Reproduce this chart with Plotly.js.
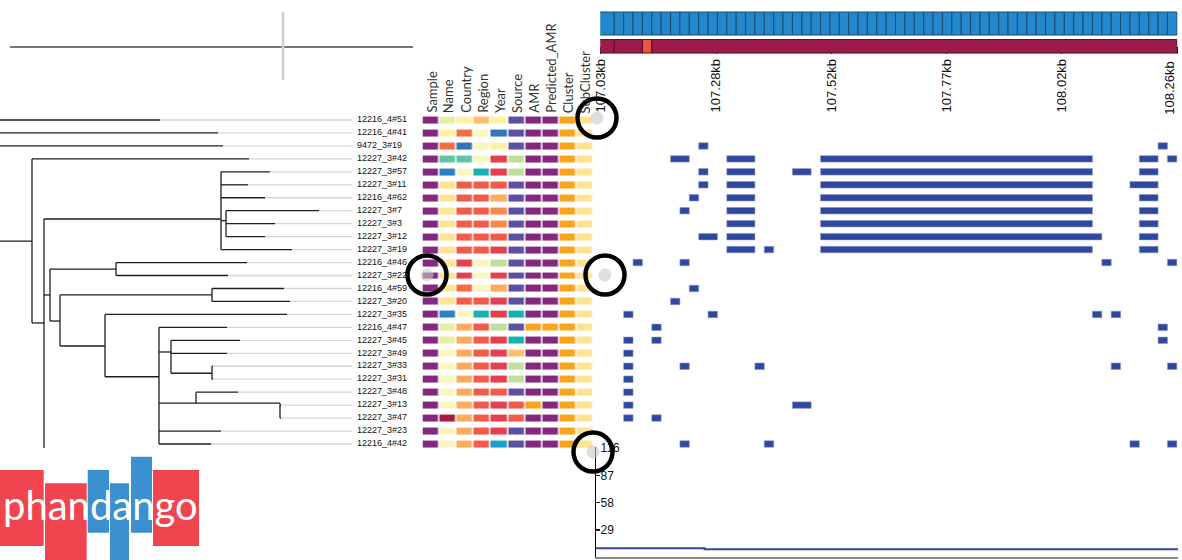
<!DOCTYPE html>
<html><head><meta charset="utf-8">
<script src="https://cdn.plot.ly/plotly-3.0.1.min.js"></script>
<style>html,body{margin:0;padding:0;background:#fff}#plot{width:1182px;height:560px}</style>
</head><body><div id="plot"></div>
<script>
// ---------------- DATA ----------------
const tipLabels = ['12216_4#51','12216_4#41','9472_3#19','12227_3#42','12227_3#57','12227_3#11','12216_4#62','12227_3#7','12227_3#3','12227_3#12','12227_3#19','12216_4#46','12227_3#22','12216_4#59','12227_3#20','12227_3#35','12216_4#47','12227_3#45','12227_3#49','12227_3#33','12227_3#31','12227_3#48','12227_3#13','12227_3#47','12227_3#23','12216_4#42'];
const tipDepth  = [160,218,223,249,270,248,265,319,275,265,292,247,228,284,290,287,227,240,227,213,213,238,281,281,221,211];
const tipParent = ['R','R','R','A','C','C','C','E','E','E','C','F','F','H','H','I','J','K','K','L','L','M','N','N','J','J'];
const innerId     = ['R','A','B','Z','C','E','D','F','G','H','I','J','K','L','M','N'];
const innerParent = [null,'R','A','B','B','C','B','D','D','G','G','I','J','K','J','M'];
const innerDepth  = [-12,32,44,90,221,226,50,116,60,212,105,159,171,212,196,280];
const innerRow    = [4.5,9.34,15.66,27.5,7.64,7.77,13.5,11.5,15.51,13.5,17.44,19.81,17.9,19.54,21.85,21.85];
const treeTipEnd = 352;

const metaColumns = ['Sample','Name','Country','Region','Year','Source','AMR','Predicted_AMR','Cluster','SubCluster'];
const palette = {P:'#84287e', g1:'#e6ef9f', y1:'#fdf1a3', y2:'#fbf6c0', y3:'#fee492', L:'#fdbe6e', S:'#5e4fa2', O:'#f9a41b', R1:'#f46d43', R2:'#f25b47', RD:'#e3414f', B1:'#3574b8', TG:'#64c3a5', LG:'#bfdf9c', BB:'#2a82c4', TE:'#16b2b3', AO:'#fbab5c', OM:'#f68a48', DR:'#a8193f', CB:'#1f9fd0'};
const colSample  = ['P','P','P','P','P','P','P','P','P','P','P','P','P','P','P','P','P','P','P','P','P','P','P','P','P','P'];
const colName    = ['g1','y1','R1','TG','BB','y3','y3','y3','y3','y3','y3','y3','y3','y3','y3','BB','g1','g1','y2','y2','y2','y2','y2','DR','y2','y2'];
const colCountry = ['y1','R1','B1','TG','y2','R2','R2','R2','R2','R2','R2','RD','RD','R1','R2','y2','AO','AO','AO','AO','AO','AO','AO','AO','AO','AO'];
const colRegion  = ['L','y2','y2','y2','TE','R2','R2','R2','R2','R2','R2','y2','y2','y2','R2','TE','R2','R2','R2','R2','R2','R2','R2','R2','R2','R2'];
const colYear    = ['y1','B1','y1','RD','RD','R2','AO','OM','OM','R2','RD','LG','RD','AO','RD','RD','LG','RD','RD','RD','RD','R2','RD','RD','RD','CB'];
const colSource  = ['S','S','S','LG','LG','S','S','S','S','S','S','S','S','S','S','TE','S','TE','L','LG','LG','S','R2','R2','S','S'];
const colAMR     = ['P','P','P','P','P','P','P','P','P','P','P','P','P','P','P','P','O','P','P','P','P','P','O','P','P','P'];
const colPredAMR = ['P','P','P','P','P','P','P','P','P','P','P','P','P','P','P','P','O','P','P','P','P','P','P','P','P','P'];
const colCluster = ['O','O','O','O','O','O','O','O','O','O','O','O','O','O','O','O','O','O','O','O','O','O','O','O','O','O'];
const colSubClus = ['y3','y3','y3','y3','y3','y3','y3','y3','y3','y3','y3','y3','y3','y3','y3','y3','y3','y3','y3','y3','y3','y3','y3','y3','y3','y3'];

// genome annotation (bp)
const geneStarts = [107000,107059,107079,107099,107119,107139,107159,107179,107199,107219,107239,107259,107279,107299,107319,107339,107359,107379,107399,107419,107439,107459,107479,107499,107519,107539,107559,107579,107599,107619,107639,107659,107679,107699,107719,107739,107759,107779,107799,107819,107839,107859,107879,107899,107919,107939,107959,107979,107999,108019,108039,108059,108079,108099,108119,108139,108159,108179,108199,108219,108239];
const geneLastEnd = 108259;
const featStarts = [107000,107059,107119,107139];
const featEnds   = [107059,107119,107139,108259];
const featKind   = ['red','red','orange','red'];
const tickVals = [107030,107276,107522,107768,108014,108260];
const tickText = ['107.03kb','107.28kb','107.52kb','107.77kb','108.02kb','108.26kb'];

// recombination blocks: [row, start, end]
const blocks = [
 [2,107239,107259],[2,108219,108239],
 [3,107179,107219],[3,107299,107359],[3,107499,108079],[3,108179,108219],[3,108239,108259],
 [4,107239,107259],[4,107299,107359],[4,107439,107479],[4,107499,108079],[4,108179,108219],
 [5,107239,107259],[5,107299,107359],[5,107499,108079],[5,108159,108219],
 [6,107219,107239],[6,107299,107359],[6,107499,108079],[6,108179,108219],
 [7,107199,107219],[7,107299,107359],[7,107499,108079],[7,108179,108219],
 [8,107299,107359],[8,107499,108079],[8,108179,108219],
 [9,107239,107279],[9,107299,107359],[9,107499,108099],[9,108179,108219],
 [10,107299,107359],[10,107379,107399],[10,107499,108079],[10,108179,108219],
 [11,107099,107119],[11,107199,107219],[11,108099,108119],[11,108239,108259],
 [13,107219,107239],
 [14,107179,107199],
 [15,107079,107099],[15,107259,107279],[15,108079,108099],[15,108119,108139],
 [16,107139,107159],[16,108219,108239],
 [17,107079,107099],[17,107139,107159],[17,108219,108239],
 [18,107079,107099],
 [19,107079,107099],[19,107199,107219],[19,107359,107379],[19,108119,108139],[19,108239,108259],
 [20,107079,107099],
 [21,107079,107099],
 [22,107079,107099],[22,107439,107479],
 [23,107079,107099],[23,107139,107159],
 [25,107199,107219],[25,107379,107399],[25,108159,108179],[25,108239,108259]
];

// coverage line
const covX = [107020,107252,108263];
const covY = [9.5,8.5,8.5];
const covTicks = [29,58,87,116];

// highlight rings (pixel overlay)
const ringX = [597,605,427,593];
const ringY = [118,275,275,452];

// ---------------- BUILD ----------------
const nodes = {};
innerId.forEach((id,i)=>{nodes[id]={x:innerDepth[i],row:innerRow[i],parent:innerParent[i],kids:[]};});
tipLabels.forEach((lab,i)=>{nodes['t'+i]={x:tipDepth[i],row:i,parent:tipParent[i],kids:[]};});
Object.keys(nodes).forEach(k=>{const p=nodes[k].parent; if(p) nodes[p].kids.push(k);});
const bx=[],by=[];
Object.keys(nodes).forEach(k=>{
  const n=nodes[k];
  if(n.parent){const p=nodes[n.parent]; bx.push(p.x,n.x,null); by.push(n.row,n.row,null);}
  if(n.kids.length){
    const rows=n.kids.map(c=>nodes[c].row).concat([n.row]);
    bx.push(n.x,n.x,null); by.push(Math.min(...rows),Math.max(...rows),null);
  }
});
const ex=[],ey=[];
tipLabels.forEach((l,i)=>{ex.push(tipDepth[i],treeTipEnd,null); ey.push(i,i,null);});

const keys = Object.keys(palette);
const nK = keys.length;
const cs = [];
keys.forEach((k,i)=>{cs.push([i/nK,palette[k]]); cs.push([(i+1)/nK,palette[k]]);});
const cols = [colSample,colName,colCountry,colRegion,colYear,colSource,colAMR,colPredAMR,colCluster,colSubClus];
const z = tipLabels.map((_,r)=>cols.map(c=>keys.indexOf(c[r])));

const W=1182,H=560;
const rowPx=12.96, row0Px=120;
const FONT='Liberation Sans, Arial, sans-serif';
const bpPx = 576.6/1230;

const traces = [];
// tree
traces.push({type:'scatter',mode:'lines',x:ex,y:ey,xaxis:'x',yaxis:'y',line:{color:'#d6d6d6',width:1.3},hoverinfo:'skip'});
traces.push({type:'scatter',mode:'lines',x:bx,y:by,xaxis:'x',yaxis:'y',line:{color:'#1e1e1e',width:1.3},hoverinfo:'skip'});
traces.push({type:'scatter',mode:'text',x:tipLabels.map(()=>treeTipEnd+5),y:tipLabels.map((_,i)=>i),text:tipLabels,textposition:'middle right',textfont:{family:FONT,size:9,color:'#111'},cliponaxis:false,xaxis:'x',yaxis:'y',hoverinfo:'skip'});
// metadata
traces.push({type:'heatmap',z:z,x:metaColumns.map((_,i)=>i),y:tipLabels.map((_,i)=>i),xaxis:'x2',yaxis:'y2',colorscale:cs,zmin:-0.5,zmax:nK-0.5,showscale:false,xgap:1.5,ygap:6,hoverinfo:'skip'});
// blocks
traces.push({type:'bar',orientation:'h',y:blocks.map(b=>b[0]),x:blocks.map(b=>b[2]-b[1]),base:blocks.map(b=>b[1]),width:0.5,xaxis:'x3',yaxis:'y2',marker:{color:'#2e489d',line:{color:'#8c94cc',width:0.6}},hoverinfo:'skip'});
// gene track
const gEnds = geneStarts.map((s,i)=> i<geneStarts.length-1 ? geneStarts[i+1] : geneLastEnd);
traces.push({type:'bar',orientation:'h',y:geneStarts.map(()=>23.5),x:geneStarts.map((s,i)=>gEnds[i]-s),base:geneStarts,width:23,xaxis:'x3',yaxis:'y3',marker:{color:'#2389cc',line:{color:'#1b4b73',width:1}},hoverinfo:'skip'});
traces.push({type:'bar',orientation:'h',y:featStarts.map(()=>46.3),x:featStarts.map((s,i)=>featEnds[i]-s),base:featStarts,width:13.5,xaxis:'x3',yaxis:'y3',marker:{color:featKind.map(k=>k==='red'?'#9c1b4a':'#ea553c'),line:{color:'#5a0c2a',width:1}},hoverinfo:'skip'});
// coverage
traces.push({type:'scatter',mode:'lines',x:covX,y:covY,line:{shape:'hv',color:'#3446a0',width:2},xaxis:'x4',yaxis:'y4',hoverinfo:'skip'});
// rings
traces.push({type:'scatter',mode:'markers',x:ringX,y:ringY,marker:{size:13,color:'rgba(200,200,200,0.6)'},xaxis:'x5',yaxis:'y5',hoverinfo:'skip'});
traces.push({type:'scatter',mode:'markers',x:ringX,y:ringY,marker:{symbol:'circle-open',size:39,color:'#000',line:{width:4.5}},xaxis:'x5',yaxis:'y5',hoverinfo:'skip'});

const hid = {visible:false,showgrid:false,zeroline:false,fixedrange:true};
const covTop = 117, covPxPerUnit = 0.9414;
const nT = tickVals.length;
const layout = {
  width:W,height:H,margin:{l:0,r:0,t:0,b:0},
  paper_bgcolor:'#fff',plot_bgcolor:'rgba(0,0,0,0)',showlegend:false,barmode:'overlay',
  font:{family:FONT},
  xaxis:Object.assign({},hid,{domain:[0,1],range:[0,W],anchor:'y'}),
  yaxis:Object.assign({},hid,{domain:[1-448/H,1],range:[(448-row0Px)/rowPx,-row0Px/rowPx],anchor:'x'}),
  xaxis2:Object.assign({},hid,{domain:[422.5/W,593.5/W],range:[-0.5,9.5],anchor:'y2'}),
  yaxis2:Object.assign({},hid,{domain:[0,1],range:[(H-row0Px)/rowPx,-row0Px/rowPx],anchor:'x2'}),
  xaxis3:{domain:[(600.7-bpPx)/W,(1177.3+bpPx)/W],range:[107029,108261],anchor:'free',position:(H-46.7)/H,side:'bottom',
          showline:true,linecolor:'#4a0820',linewidth:1,ticks:'outside',ticklen:6,tickcolor:'#222',tickwidth:1,
          tickvals:tickVals,ticktext:tickText.map((t,i)=> i<nT-1 ? t : ''),tickangle:-90,tickfont:{family:FONT,size:13,color:'#111'},
          ticklabeloverflow:'allow',showgrid:false,zeroline:false,fixedrange:true},
  yaxis3:Object.assign({},hid,{domain:[0,1],range:[H,0],anchor:'x3'}),
  xaxis4:{domain:[596/W,1178/W],range:[107020,108263],anchor:'y4',showline:true,linecolor:'#888',linewidth:1.5,
          ticks:'',showticklabels:false,showgrid:false,zeroline:false,fixedrange:true},
  yaxis4:{domain:[(H-557.3)/H,(H-557.3+covTop*covPxPerUnit)/H],range:[0,covTop],anchor:'x4',showline:true,linecolor:'#000',linewidth:1,
          ticks:'inside',ticklen:4,tickwidth:1.5,tickcolor:'#222',tickvals:covTicks,ticklabelposition:'inside',ticklabeloverflow:'allow',
          tickfont:{family:FONT,size:12,color:'#111'},showgrid:false,zeroline:false,fixedrange:true},
  xaxis5:Object.assign({},hid,{domain:[0,1],range:[0,W],anchor:'y5'}),
  yaxis5:Object.assign({},hid,{domain:[0,1],range:[H,0],anchor:'x5'}),
  shapes:[
    {type:'line',xref:'x5',yref:'y5',x0:10,x1:413,y0:47,y1:47,line:{color:'#777',width:2}},
    {type:'line',xref:'x5',yref:'y5',x0:283,x1:283,y0:12,y1:80,line:{color:'#cfcfcf',width:2.5}},
    {type:'rect',xref:'x5',yref:'y5',x0:0,x1:43.7,y0:470,y1:546,fillcolor:'#f0444f',line:{width:0}},
    {type:'rect',xref:'x5',yref:'y5',x0:45,x1:86.7,y0:483.3,y1:562,fillcolor:'#f0444f',line:{width:0}},
    {type:'rect',xref:'x5',yref:'y5',x0:87.7,x1:109,y0:470,y1:532.7,fillcolor:'#3b91cf',line:{width:0}},
    {type:'rect',xref:'x5',yref:'y5',x0:110,x1:129,y0:483.3,y1:562,fillcolor:'#3b91cf',line:{width:0}},
    {type:'rect',xref:'x5',yref:'y5',x0:131,x1:152,y0:456.7,y1:532.7,fillcolor:'#3b91cf',line:{width:0}},
    {type:'rect',xref:'x5',yref:'y5',x0:153,x1:199,y0:470,y1:546,fillcolor:'#f0444f',line:{width:0}}
  ],
  annotations:[]
};
// last genome tick label, shifted inward so it stays on the page
layout.annotations.push({xref:'x3',yref:'y5',x:tickVals[nT-1],y:59,text:tickText[nT-1],showarrow:false,textangle:-90,
  xanchor:'right',yanchor:'top',xshift:1,font:{family:FONT,size:13,color:'#111'}});
metaColumns.forEach((c,i)=>{
  layout.annotations.push({xref:'x2',yref:'y5',x:i,y:115,text:c,showarrow:false,textangle:-90,xanchor:'center',yanchor:'bottom',
    font:{family:'Lato, sans-serif',size:13,color:'#333'}});
});
layout.annotations.push({xref:'x5',yref:'y5',x:1,y:505,text:'phandango',showarrow:false,xanchor:'left',yanchor:'middle',
  font:{family:'Lato, sans-serif',size:40,color:'#fff'}});

Plotly.newPlot('plot',traces,layout,{displayModeBar:false,staticPlot:true});
</script></body></html>
